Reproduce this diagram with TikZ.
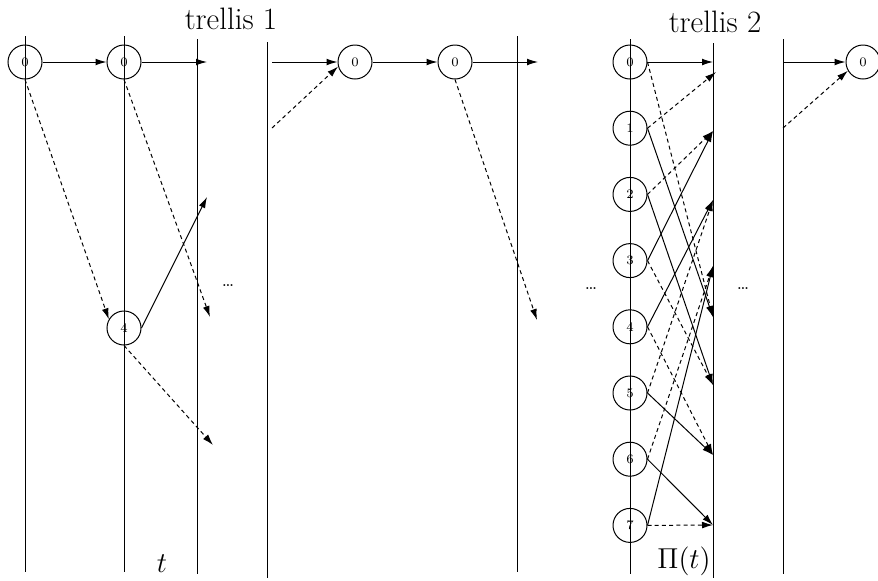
\documentclass[tikz,border=0pt]{standalone}
\usetikzlibrary{arrows.meta}
\begin{document}
\begin{tikzpicture}[x=0.5pt,y=-0.5pt,line width=0.5pt,
  state/.style={draw,circle,minimum size=17pt,inner sep=0pt,font=\fontsize{6.5}{7}\selectfont},
  arr/.style={-{Latex[length=5.5pt,width=3.4pt]}},
  dsh/.style={arr,dash pattern=on 2pt off 1.6pt},
  lbl/.style={font=\fontsize{15.5}{18}\selectfont,anchor=base},
  dots/.style={font=\fontsize{9}{10}\selectfont}]
\useasboundingbox (0,0) rectangle (878,580);
% time lines
\foreach \x/\ya/\yb in {25/36/572,124/36/572,197/39/574,267/42/578,517/36/572,630/39/574,713/43/578,783/39/574}
  \draw (\x,\ya) -- (\x,\yb);
\node[lbl] (tr1) at (231,29) {trellis 1};
\node[lbl] (tr2) at (715,32) {trellis 2};
\node[lbl] (tt) at (162,572) {$t$};
\node[lbl] (pt) at (684,568) {$\Pi(t)$};
\node[dots] (d1) at (228,286) {\dots};
\node[dots] (d2) at (591,289) {\dots};
\node[dots] (d3) at (743,289) {\dots};
% trellis 1
\node[state] (u0) at (25,62) {0};
\node[state] (v0) at (124,62) {0};
\node[state] (v4) at (124,328) {4};
\coordinate (a1) at (207,62);
\coordinate (a2) at (210,317);
\coordinate (a3) at (207,197);
\coordinate (a4) at (213,445);
\draw[arr] (u0) -- (v0);
\draw[arr] (v0) -- (a1);
\draw[dsh] (u0.south) -- (v4.150);
\draw[dsh] (v0.south) -- (a2);
\draw[arr] (v4.east) -- (a3);
\draw[dsh] (v4.south) -- (a4);
% middle part
\node[state] (m0) at (355,62) {0};
\node[state] (m1) at (455,62) {0};
\coordinate (b0) at (272,62);
\coordinate (b1) at (272,128);
\coordinate (b2) at (538,62);
\coordinate (b3) at (537,320);
\draw[arr] (b0) -- (m0);
\draw[dsh] (b1) -- (m0.195);
\draw[arr] (m0) -- (m1);
\draw[arr] (m1) -- (b2);
\draw[dsh] (m1.south) -- (b3);
% trellis 2
\foreach \k in {0,...,7}
  \node[state] (s\k) at (630,{62+66.2*\k}) {\k};
\foreach \k/\y in {0/62,1/131,2/200,3/266,4/317,5/385,6/455,7/525}
  \coordinate (tg\k) at (713,\y);
\coordinate (tg0d) at (716,72);
\foreach \a/\b in {0/0,1/4,2/5,3/1,4/2,5/6,6/7,7/3}
  \draw[arr] (s\a.east) -- (tg\b);
\foreach \a/\b in {0/4,1/0d,2/1,3/5,4/6,5/2,6/3,7/7}
  \draw[dsh] (s\a.east) -- (tg\b);
% right part
\node[state] (r0) at (863,62) {0};
\coordinate (c0) at (783,62);
\coordinate (c1) at (783,128);
\draw[arr] (c0) -- (r0);
\draw[dsh] (c1) -- (r0.210);
\end{tikzpicture}
\end{document}
